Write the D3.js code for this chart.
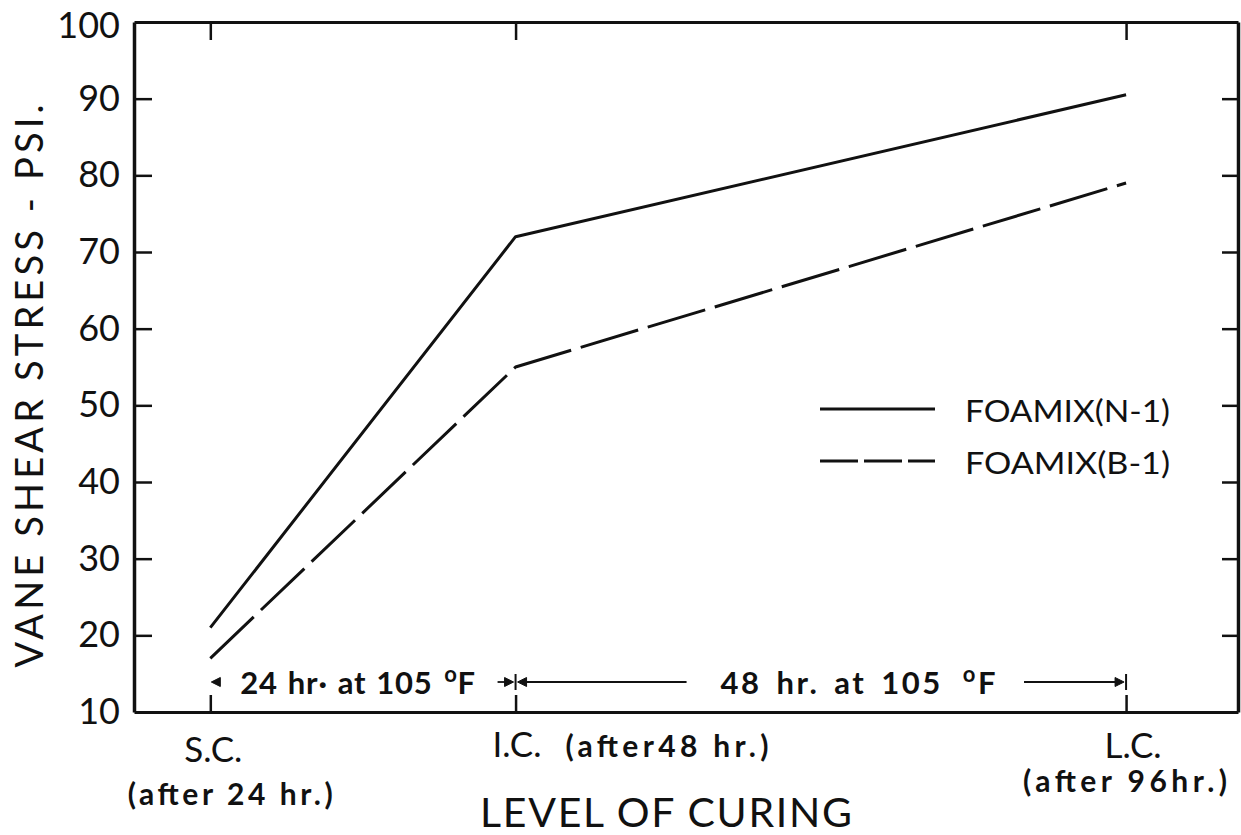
<!DOCTYPE html>
<html>
<head>
<meta charset="utf-8">
<script src="https://cdn.jsdelivr.net/npm/d3@7"></script>
<style>
  body { margin: 0; background: #fff; }
  text { font-family: Lato, "Noto Sans", sans-serif; fill: #111; }
</style>
</head>
<body>
<svg id="chart" width="1241" height="835"></svg>
<script>
// Curing times (hours) and level names
const hours = [24, 48, 96];
const levels = ["S.C.", "I.C.", "L.C."];
const levelNotes = ["(after 24 hr.)", "(after48 hr.)", "(after 96hr.)"];

// Vane shear stress (psi) at each curing level
const stressN1 = [21, 72, 90.5];
const stressB1 = [17, 55, 79];
const seriesNames = ["FOAMIX(N-1)", "FOAMIX(B-1)"];

const yTickValues = [10, 20, 30, 40, 50, 60, 70, 80, 90, 100];
const innerTickValues = [20, 30, 40, 50, 60, 70, 80, 90];

// Curing intervals annotated along the bottom of the plot
const spanFrom = [24, 48];
const spanTo = [48, 96];
const spanText = ["24 hr\u00B7 at 105 ", "48 hr.  at 105 "];

const svg = d3.select("#chart");
const plot = { left: 134, right: 1238, top: 22, bottom: 712 };

const x = d3.scaleLinear().domain([18, 104.8]).range([plot.left, plot.right]);
const y = d3.scaleLinear().domain([10, 100]).range([plot.bottom, plot.top]);

function styleAxis(g, domainWidth) {
  g.select(".domain").attr("stroke", "#111").attr("stroke-width", domainWidth);
  g.selectAll(".tick line").attr("stroke", "#111").attr("stroke-width", 2.5);
}

// Left axis with value labels, ticks pointing inward
const gLeft = svg.append("g")
  .attr("transform", `translate(${plot.left},0)`)
  .call(d3.axisLeft(y).tickValues(yTickValues).tickSizeInner(-18).tickSizeOuter(0).tickPadding(14));
styleAxis(gLeft, 3.5);
gLeft.selectAll(".tick text")
  .attr("font-size", 36).attr("fill", "#111")
  .style("font-family", "Lato, 'Noto Sans', sans-serif");
gLeft.selectAll(".tick").filter(d => d === 10 || d === 100).select("line").remove();
// the top label sits just below the frame corner
gLeft.selectAll(".tick").filter(d => d === 100).select("text").attr("dy", "0.42em");

// Right axis (ticks only)
const gRight = svg.append("g")
  .attr("transform", `translate(${plot.right},0)`)
  .call(d3.axisRight(y).tickValues(innerTickValues).tickSizeInner(-16).tickSizeOuter(0).tickFormat(""));
styleAxis(gRight, 3.5);

// Top axis (ticks only)
const gTop = svg.append("g")
  .attr("transform", `translate(0,${plot.top})`)
  .call(d3.axisTop(x).tickValues(hours).tickSizeInner(-18).tickSizeOuter(0).tickFormat(""));
styleAxis(gTop, 3);

// Bottom axis (ticks only, labels drawn below)
const gBottom = svg.append("g")
  .attr("transform", `translate(0,${plot.bottom})`)
  .call(d3.axisBottom(x).tickValues(hours).tickSizeInner(-17).tickSizeOuter(0).tickFormat(""));
styleAxis(gBottom, 3);

// Series lines
const line = d3.line().x(d => x(d[0])).y(d => y(d[1]));
const n1Points = hours.map((h, i) => [h, stressN1[i]]);
const b1Points = hours.map((h, i) => [h, stressB1[i]]);

svg.append("path").datum(n1Points)
  .attr("d", line).attr("fill", "none").attr("stroke", "#111")
  .attr("stroke-width", 3).attr("stroke-linejoin", "round");
svg.append("path").datum(b1Points)
  .attr("d", line).attr("fill", "none").attr("stroke", "#111")
  .attr("stroke-width", 3).attr("stroke-dasharray", "60,10").attr("stroke-linejoin", "round");

// Legend
const legendX = 820, legendTextX = 965;
const legendRows = [
  { name: seriesNames[0], y: 409, dash: null },
  { name: seriesNames[1], y: 461, dash: "38,6" }
];
legendRows.forEach(r => {
  svg.append("line")
    .attr("x1", legendX).attr("x2", legendX + 115)
    .attr("y1", r.y).attr("y2", r.y)
    .attr("stroke", "#111").attr("stroke-width", 3)
    .attr("stroke-dasharray", r.dash);
  svg.append("text")
    .attr("x", legendTextX).attr("y", r.y + 13)
    .attr("font-size", 30)
    .attr("textLength", 205).attr("lengthAdjust", "spacingAndGlyphs")
    .text(r.name);
});

// Curing level labels
svg.append("text").attr("x", x(hours[0]) + 3).attr("y", 762)
  .attr("text-anchor", "middle").attr("font-size", 35).text(levels[0]);
svg.append("text").attr("x", x(hours[0]) + 20).attr("y", 805)
  .attr("text-anchor", "middle").attr("font-size", 30).attr("font-weight", 700)
  .attr("textLength", 205).attr("lengthAdjust", "spacing").text(levelNotes[0]);

svg.append("text").attr("x", x(hours[1]) - 23).attr("y", 757)
  .attr("font-size", 35).text(levels[1]);
svg.append("text").attr("x", x(hours[1]) + 50).attr("y", 757)
  .attr("font-size", 30).attr("font-weight", 700)
  .attr("textLength", 203).attr("lengthAdjust", "spacing").text(levelNotes[1]);

svg.append("text").attr("x", x(hours[2]) + 7).attr("y", 758)
  .attr("text-anchor", "middle").attr("font-size", 35).text(levels[2]);
svg.append("text").attr("x", x(hours[2]) - 1).attr("y", 792)
  .attr("text-anchor", "middle").attr("font-size", 30).attr("font-weight", 700)
  .attr("textLength", 204).attr("lengthAdjust", "spacing").text(levelNotes[2]);

// Axis titles
svg.append("text")
  .attr("transform", "translate(43,386) rotate(-90)")
  .attr("text-anchor", "middle").attr("font-size", 38)
  .attr("textLength", 563).attr("lengthAdjust", "spacing")
  .text("VANE  SHEAR  STRESS  -  PSI.");

svg.append("text")
  .attr("x", 480).attr("y", 827)
  .attr("font-size", 41)
  .attr("textLength", 372).attr("lengthAdjust", "spacing")
  .text("LEVEL  OF  CURING");

// Curing interval annotations
const rowY = 682;
const ann = svg.append("g").attr("stroke", "#111").attr("fill", "#111");

function arrowHead(tipX, dir) {
  // dir = -1 points left, +1 points right
  ann.append("path")
    .attr("d", `M${tipX},${rowY} L${tipX - dir * 9},${rowY - 4.5} L${tipX - dir * 9},${rowY + 4.5} Z`)
    .attr("stroke-width", 1);
}
function hLine(x1, x2) {
  ann.append("line").attr("x1", x1).attr("x2", x2).attr("y1", rowY).attr("y2", rowY)
    .attr("stroke-width", 1.8);
}
function bar(xp) {
  ann.append("line").attr("x1", xp).attr("x2", xp).attr("y1", rowY - 8).attr("y2", rowY + 8)
    .attr("stroke-width", 2);
}

function spanLabel(xStart, str, spacing) {
  const t = svg.append("text").attr("x", xStart).attr("y", rowY + 12)
    .attr("font-size", 31).attr("font-weight", 700)
    .style("letter-spacing", spacing + "px")
    .style("word-spacing", (spacing * 2) + "px");
  t.append("tspan").text(str);
  t.append("tspan").attr("dx", spacing * 2).attr("dy", -12).attr("font-size", 22).text("o");
  t.append("tspan").attr("dy", 12).text("F");
  return t;
}

// 24 hr span
arrowHead(x(spanFrom[0]) + 1, -1);
spanLabel(x(spanFrom[0]) + 30, spanText[0], 0.8);
hLine(x(spanTo[0]) - 18, x(spanTo[0]) - 6);
arrowHead(x(spanTo[0]) - 2, 1);
bar(x(spanTo[0]));

// 48 hr span
arrowHead(x(spanFrom[1]) + 2, -1);
const t2 = spanLabel(x(spanFrom[1]) + 205, spanText[1], 2.5);
const b2 = t2.node().getBBox();
hLine(x(spanFrom[1]) + 8, b2.x - 34);
hLine(b2.x + b2.width + 26, x(spanTo[1]) - 8);
arrowHead(x(spanTo[1]) - 2, 1);
bar(x(spanTo[1]));
</script>
</body>
</html>
